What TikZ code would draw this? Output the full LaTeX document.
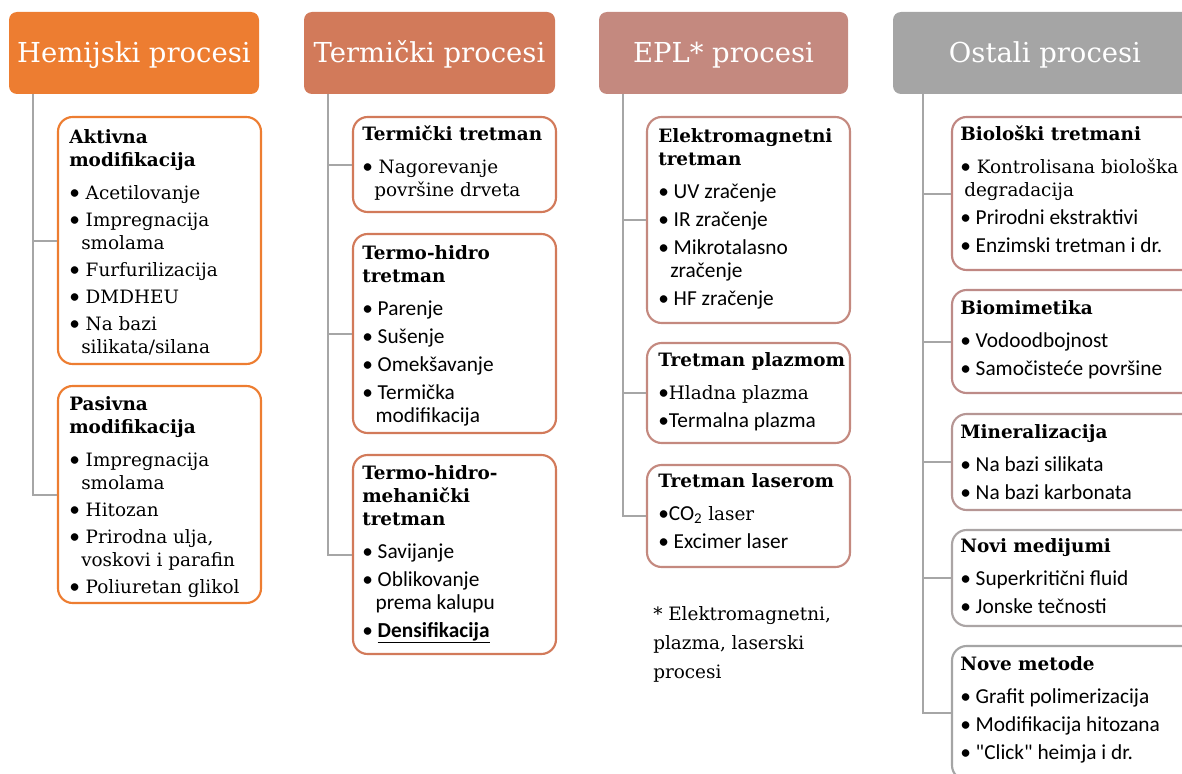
\documentclass[tikz,border=0pt]{standalone}
\usepackage{fontspec}
\setmainfont{DejaVu Serif}
\newfontfamily\carlito{Carlito}
\usetikzlibrary{fit}
\definecolor{hemi}{HTML}{ED7D31}
\definecolor{term}{HTML}{D27A5A}
\definecolor{epl}{HTML}{C4897F}
\definecolor{ost}{HTML}{A5A5A5}
\definecolor{ostA}{HTML}{C08782}
\definecolor{ostB}{HTML}{BD8B88}
\definecolor{ostC}{HTML}{B69694}
\definecolor{ostD}{HTML}{ABA5A5}
\definecolor{linegray}{HTML}{A6A6A6}
\newcommand\sff{\carlito\fontsize{16}{17.25}\selectfont}
\newcommand\bul{{\sff\textbullet}}

\begin{document}
\begin{tikzpicture}[x=0.75pt, y=-0.75pt,
  conn/.style={draw=linegray, line width=1.5pt},
  head/.style={rounded corners=6pt, inner sep=0pt},
  box/.style={draw=#1, line width=1.6pt, rounded corners=11pt, inner sep=0pt, fill=white},
  txt/.style={anchor=base west, align=left, inner sep=0pt, font=\fontsize{13.8}{17.25}\selectfont},
  htxt/.style={anchor=base, text=white, inner sep=0pt, font=\fontsize{20.6}{25}\selectfont}]
  \useasboundingbox (0,0) rectangle (1182,774);
  \clip (0,0) rectangle (1182,774);
  % Four process groups (text nodes sit on the baseline of their last line)
  \node[head, fill=hemi, fit={(9,12) (259,94)}] (H1) {};
  \node[head, fill=term, fit={(304,12) (555,94)}] (H2) {};
  \node[head, fill=epl, fit={(599,12) (848,94)}] (H3) {};
  \node[head, fill=ost, fit={(893,12) (1200,94)}] (H4) {};
  \node[htxt] (H1t) at (134,62.5) {Hemijski procesi};
  \node[htxt] (H2t) at (429.5,62.5) {Termički procesi};
  \node[htxt] (H3t) at (723.5,62.5) {EPL* procesi};
  \node[htxt] (H4t) at (1045,62.5) {Ostali procesi};
  \coordinate (R1) at (33,94);
  \coordinate (R2) at (328,94);
  \coordinate (R3) at (623,94);
  \coordinate (R4) at (923,94);

  % Hemijski
  \node[box=hemi, fit={(58,117) (261,364)}] (A1) {};
  \node[txt] (A1t) at (69,353) {\textbf{Aktivna}\\ \textbf{modifikacija}\\[7.5pt]
    \bul\ Acetilovanje\\[3pt]
    \bul\ Impregnacija\\ \hspace*{9pt}smolama\\[3pt]
    \bul\ Furfurilizacija\\[3pt]
    \bul\ DMDHEU\\[3pt]
    \bul\ Na bazi\\ \hspace*{9pt}silikata/silana};
  \node[box=hemi, fit={(58,386) (261,603)}] (A2) {};
  \node[txt] (A2t) at (69,593) {\textbf{Pasivna}\\ \textbf{modifikacija}\\[7.5pt]
    \bul\ Impregnacija\\ \hspace*{9pt}smolama\\[3pt]
    \bul\ Hitozan\\[3pt]
    \bul\ Prirodna ulja,\\ \hspace*{9pt}voskovi i parafin\\[3pt]
    \bul\ Poliuretan glikol};
  \draw[conn] (R1) |- (A1.west);
  \draw[conn] (R1) |- (A2.west);

  % Termicki
  \node[box=term, fit={(353,117) (556,212)}] (T1) {};
  \node[txt] (T1t) at (362,196) {\textbf{Termički tretman}\\[7.5pt]
    \bul\ Nagorevanje\\ \hspace*{9pt}površine drveta};
  \node[box=term, fit={(353,234) (556,433)}] (T2) {};
  \node[txt] (T2t) at (362,422) {\textbf{Termo-hidro}\\ \textbf{tretman}\\[7.5pt]
    \sff\textbullet\ Parenje\\[3.75pt]
    \sff\textbullet\ Sušenje\\[3.75pt]
    \sff\textbullet\ Omekšavanje\\[3.75pt]
    \sff\textbullet\ Termička\\ \sff\hspace*{10pt}modifikacija};
  \node[box=term, fit={(353,455) (556,654)}] (T3) {};
  \node[txt] (T3t) at (362,637) {\textbf{Termo-hidro-}\\ \textbf{mehanički}\\ \textbf{tretman}\\[7.5pt]
    \sff\textbullet\ Savijanje\\[3.75pt]
    \sff\textbullet\ Oblikovanje\\ \sff\hspace*{10pt}prema kalupu\\[3.75pt]
    \sff\textbullet\ \underline{\textbf{Densifikacija}}};
  \draw[conn] (R2) |- (T1.west);
  \draw[conn] (R2) |- (T2.west);
  \draw[conn] (R2) |- (T3.west);

  % EPL
  \node[box=epl, fit={(647,117) (850,323)}] (E1) {};
  \node[txt] (E1t) at (658,305) {\textbf{Elektromagnetni}\\ \textbf{tretman}\\[7.5pt]
    \sff\textbullet\ UV zračenje\\[3.75pt]
    \sff\textbullet\ IR zračenje\\[3.75pt]
    \sff\textbullet\ Mikrotalasno\\ \sff\hspace*{9pt}zračenje\\[3.75pt]
    \sff\textbullet\ HF zračenje};
  \node[box=epl, fit={(647,343) (850,443)}] (E2) {};
  \node[txt] (E2t) at (658,427) {\textbf{Tretman plazmom}\\[7.5pt]
    \bul{}Hladna plazma\\[3.5pt]
    \sff\textbullet{}Termalna plazma};
  \node[box=epl, fit={(647,465) (850,567)}] (E3) {};
  \node[txt] (E3t) at (658,548) {\textbf{Tretman laserom}\\[7.5pt]
    {\sff\textbullet{}CO\textsubscript{2}} laser\\[3.5pt]
    \sff\textbullet\ Excimer laser};
  \draw[conn] (R3) |- (E1.west);
  \draw[conn] (R3) |- (E2.west);
  \draw[conn] (R3) |- (E3.west);
  \node[txt, font=\fontsize{13.8}{21.75}\selectfont] (F) at (653,678) {* Elektromagnetni,\\ plazma, laserski\\ procesi};

  % Ostali
  \node[box=ostA, fit={(952,117) (1200,270)}] (O1) {};
  \node[txt] (O1t) at (960,252) {\textbf{Biološki tretmani}\\[7.5pt]
    \bul\ Kontrolisana biološka\\ \hspace*{3pt}degradacija\\[3.5pt]
    \sff\textbullet\ Prirodni ekstraktivi\\[3.75pt]
    \sff\textbullet\ Enzimski tretman i dr.};
  \node[box=ostB, fit={(952,290) (1200,393)}] (O2) {};
  \node[txt] (O2t) at (960,375) {\textbf{Biomimetika}\\[7.5pt]
    \sff\textbullet\ Vodoodbojnost\\[3.75pt]
    \sff\textbullet\ Samočisteće površine};
  \node[box=ostC, fit={(952,414) (1200,510)}] (O3) {};
  \node[txt] (O3t) at (960,499) {\textbf{Mineralizacija}\\[7.5pt]
    \sff\textbullet\ Na bazi silikata\\[3.75pt]
    \sff\textbullet\ Na bazi karbonata};
  \node[box=ostD, fit={(952,530) (1200,626)}] (O4) {};
  \node[txt] (O4t) at (960,613) {\textbf{Novi medijumi}\\[7.5pt]
    \sff\textbullet\ Superkritični fluid\\[3.75pt]
    \sff\textbullet\ Jonske tečnosti};
  \node[box=ost, fit={(952,646) (1200,780)}] (O5) {};
  \node[txt] (O5t) at (960,759) {\textbf{Nove metode}\\[7.5pt]
    \sff\textbullet\ Grafit polimerizacija\\[3.75pt]
    \sff\textbullet\ Modifikacija hitozana\\[3.75pt]
    \sff\textbullet\ "Click" heimja i dr.};
  \draw[conn] (R4) |- (O1.west);
  \draw[conn] (R4) |- (O2.west);
  \draw[conn] (R4) |- (O3.west);
  \draw[conn] (R4) |- (O4.west);
  \draw[conn] (R4) |- (O5.west);
\end{tikzpicture}
\end{document}
